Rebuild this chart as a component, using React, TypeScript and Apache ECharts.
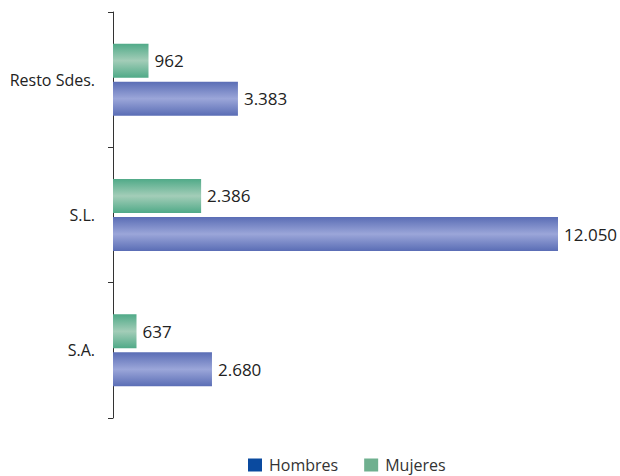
import React, { useEffect, useRef } from "react";
import * as echarts from "echarts";

const categories = ["S.A.", "S.L.", "Resto Sdes."];
const hombres = [2680, 12050, 3383];
const mujeres = [637, 2386, 962];
const seriesNames = ["Hombres", "Mujeres"];

const fmt = (v: number) => String(v).replace(/\B(?=(\d{3})+(?!\d))/g, ".");

const grad = (edge: string, mid: string) =>
  new echarts.graphic.LinearGradient(0, 0, 0, 1, [
    { offset: 0, color: edge },
    { offset: 0.5, color: mid },
    { offset: 1, color: edge },
  ]);

export default function App() {
  const ref = useRef<HTMLDivElement>(null);
  useEffect(() => {
    if (!ref.current) return;
    document.body.style.margin = "0";
    document.body.style.overflow = "hidden";
    const chart = echarts.init(ref.current, undefined, { renderer: "svg" });
    const font = "'Open Sans', 'Noto Sans', sans-serif";
    const valueLabel = {
      show: true,
      position: "right",
      distance: 6,
      fontSize: 17,
      color: "#222",
      fontFamily: font,
      formatter: (p: any) => fmt(p.value),
    };
    chart.setOption({
      animation: false,
      textStyle: { fontFamily: font },
      grid: { left: 113, top: 12, width: 445, height: 406 },
      legend: {
        top: 457,
        left: 248,
        padding: 0,
        itemWidth: 14,
        itemHeight: 13,
        itemGap: 26,
        icon: "rect",
        textStyle: { fontSize: 16, color: "#333", fontFamily: font, padding: [0, 0, 0, 2] },
        data: [
          { name: seriesNames[0], itemStyle: { color: "#0a4a9f" } },
          { name: seriesNames[1], itemStyle: { color: "#6fb08f" } },
        ],
      },
      xAxis: {
        type: "value",
        min: 0,
        max: 12050,
        show: false,
      },
      yAxis: {
        type: "category",
        data: categories,
        offset: 12,
        axisLine: { show: true, lineStyle: { color: "#333", width: 1 } },
        axisTick: { show: true, length: 5, lineStyle: { color: "#333" } },
        axisLabel: { fontSize: 16, color: "#222", margin: 6, fontFamily: font },
        splitLine: { show: false },
      },
      series: [
        {
          name: seriesNames[1],
          type: "bar",
          data: mujeres,
          barWidth: 34,
          barGap: "12%",
          itemStyle: { color: grad("#50aa88", "#a3cdb8") },
          label: valueLabel,
        },
        {
          name: seriesNames[0],
          type: "bar",
          data: hombres,
          barWidth: 34,
          barGap: "12%",
          itemStyle: { color: grad("#5a6db5", "#9ba6d9") },
          label: valueLabel,
        },
      ],
    });
    return () => chart.dispose();
  }, []);
  return <div ref={ref} style={{ width: 620, height: 476 }} />;
}
